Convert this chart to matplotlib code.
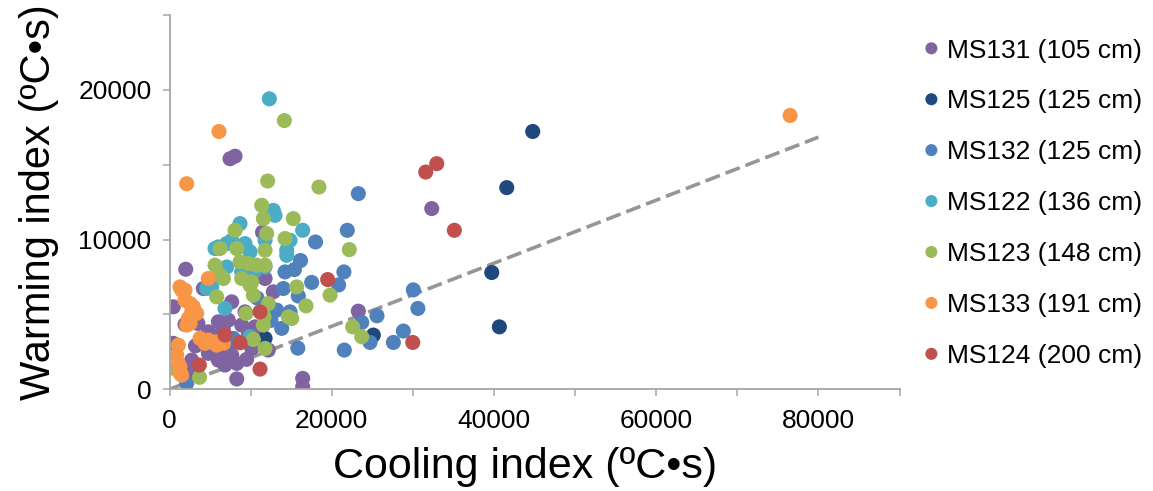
import matplotlib
matplotlib.use("Agg")
import matplotlib.pyplot as plt
from matplotlib.ticker import MultipleLocator, FuncFormatter

plt.rcParams['font.family'] = ['Liberation Sans', 'DejaVu Sans']

# Site labels and colours
series_names = ["MS131 (105 cm)", "MS125 (125 cm)", "MS132 (125 cm)",
                "MS122 (136 cm)", "MS123 (148 cm)", "MS133 (191 cm)",
                "MS124 (200 cm)"]
series_colors = ["#8064A2", "#1F497D", "#4F81BD", "#4BACC6",
                 "#9BBB59", "#F79646", "#C0504D"]

# Cooling index (x) and warming index (y), in degC*s
ms131_x = [7460, 8080, 32330, 23280, 16420, 16420, 2000, 11470, 11780, 12800,
           470, 4170, 7670, 470, 1910, 4790, 6020, 5610, 7250, 8900, 9310,
           10140, 4790, 6020, 6840, 8290, 7670, 8290, 2740, 6630, 10540, 12180,
           3500, 5200, 9700, 11200, 8000, 6400, 3200, 9500, 2300]
ms131_y = [15400, 15570, 12070, 5220, 730, 170, 8020, 10490, 7400, 6510,
           5510, 6730, 5840, 3070, 4330, 3840, 4510, 3070, 4620, 4290, 5170,
           2730, 2400, 1950, 1620, 1730, 2290, 690, 1950, 4070, 4170, 2620,
           4400, 3600, 3600, 3900, 3200, 2700, 2900, 2000, 1200]

ms125_x = [11780, 25130, 39730, 40670, 41580, 44780]
ms125_y = [3400, 3620, 7800, 4170, 13470, 17220]

ms132_x = [23280, 21920, 18000, 16150, 15400, 14240, 21500, 17530, 20850,
           30060, 30620, 15880, 13220, 14860, 13830, 25580, 23700, 28830,
           27600, 24720, 21550, 15820, 2120, 7870, 14030, 12500, 10800]
ms132_y = [13070, 10620, 9840, 8600, 8000, 7840, 7840, 7140, 6970,
           6640, 5400, 6230, 5290, 5170, 4070, 4910, 4470, 3890,
           3130, 3130, 2620, 2750, 400, 3400, 6730, 4600, 6100]

ms122_x = [12310, 16420, 12800, 13010, 8690, 14450, 14860, 7670, 5610, 7050,
           9310, 9930, 7050, 8900, 11780, 11780, 4790, 6230, 14450, 4590,
           6840, 9930, 10500, 6020, 5200]
ms122_y = [19400, 10620, 11950, 11620, 11070, 9290, 9950, 9950, 9400, 9730,
           9730, 9180, 8170, 7840, 9950, 8170, 7070, 7840, 8950, 6730,
           5400, 3510, 7900, 9510, 6840]

ms123_x = [14160, 12100, 18430, 15260, 22170, 16830, 19790, 15070, 22580,
           23700, 11370, 11570, 8080, 11980, 14240, 11780, 6230, 8290, 8690,
           9720, 10750, 11780, 5610, 6230, 8900, 10140, 6640, 9930, 10340,
           5820, 15680, 12180, 9430, 11650, 14650, 11570, 10340, 11780, 60,
           3700]
ms123_y = [17950, 13910, 13510, 11400, 9330, 5570, 6290, 4730, 4170,
           3510, 12290, 11400, 10620, 10400, 10070, 9290, 9400, 9400, 8510,
           8400, 8290, 8290, 8290, 7620, 7400, 7170, 7400, 6950, 6290,
           6170, 6840, 5730, 5070, 4840, 4840, 4290, 3330, 2730, 1400,
           800]

ms133_x = [76510, 6100, 2120, 4790, 1290, 1910, 2530, 2940, 3350, 2320, 2120,
           3760, 4790, 5820, 6630, 1090, 890, 1090, 1290, 1500, 1910, 2740,
           2530, 5820, 4380, 1500, 1290]
ms133_y = [18290, 17220, 13730, 7400, 6840, 6620, 5730, 5510, 5070, 4730, 4290,
           3400, 3290, 3170, 3070, 2950, 2290, 1730, 1070, 6620, 5950, 5170,
           4400, 2950, 3070, 950, 1510]

ms124_x = [32950, 31590, 35120, 29990, 19500, 11160, 6840, 8690, 3680, 11160]
ms124_y = [15070, 14510, 10620, 3130, 7330, 5170, 3620, 3110, 1620, 1350]

# Reference line through the origin
trend_x = [0, 80000]
trend_y = [0, 16840]

series_x = [ms131_x, ms125_x, ms132_x, ms122_x, ms123_x, ms133_x, ms124_x]
series_y = [ms131_y, ms125_y, ms132_y, ms122_y, ms123_y, ms133_y, ms124_y]

W, H = 1153, 491
fig = plt.figure(figsize=(W / 100, H / 100), dpi=100)
ax = fig.add_axes([169.5 / W, (H - 389.3) / H, 730 / W, (389.3 - 15) / H])

ax.plot(trend_x, trend_y, color="#969696", lw=2.6,
        dashes=(4.2, 1.7), dash_capstyle="butt", zorder=1)

for xs, ys, name, col in zip(series_x, series_y, series_names, series_colors):
    ax.scatter(xs, ys, s=118, color=col, edgecolors="none", label=name,
               zorder=2)

ax.set_xlim(0, 90000)
ax.set_ylim(0, 25000)

ax.xaxis.set_major_locator(MultipleLocator(20000))
ax.xaxis.set_minor_locator(MultipleLocator(10000))
ax.yaxis.set_major_locator(MultipleLocator(10000))
ax.yaxis.set_minor_locator(MultipleLocator(5000))
ax.xaxis.set_major_formatter(FuncFormatter(lambda v, p: f"{int(v)}"))
ax.yaxis.set_major_formatter(FuncFormatter(lambda v, p: f"{int(v)}"))

spine_col = "#A6A6A6"
for side in ("top", "right"):
    ax.spines[side].set_visible(False)
for side in ("left", "bottom"):
    ax.spines[side].set_color(spine_col)
    ax.spines[side].set_linewidth(1.3)

ax.tick_params(axis="both", which="both", direction="out", length=5,
               width=1.1, color=spine_col, labelsize=19, labelcolor="black")
ax.tick_params(axis="y", which="both", pad=8)
ax.tick_params(axis="x", which="both", pad=9)

ax.set_xlabel("Cooling index (ºC•s)", fontsize=31, labelpad=8)
ax.xaxis.set_label_coords(0.487, -0.155)
ax.set_ylabel("Warming index (ºC•s)", fontsize=30, labelpad=14)

leg = ax.legend(loc="upper left", bbox_to_anchor=(905 / W, 1 - 28 / H),
                bbox_transform=fig.transFigure, frameon=False, fontsize=19,
                markerscale=0.8, handletextpad=0.0, labelspacing=1.02,
                borderaxespad=0, handlelength=1.2, scatteryoffsets=[0.5])

fig.savefig("out.png", dpi=100)
